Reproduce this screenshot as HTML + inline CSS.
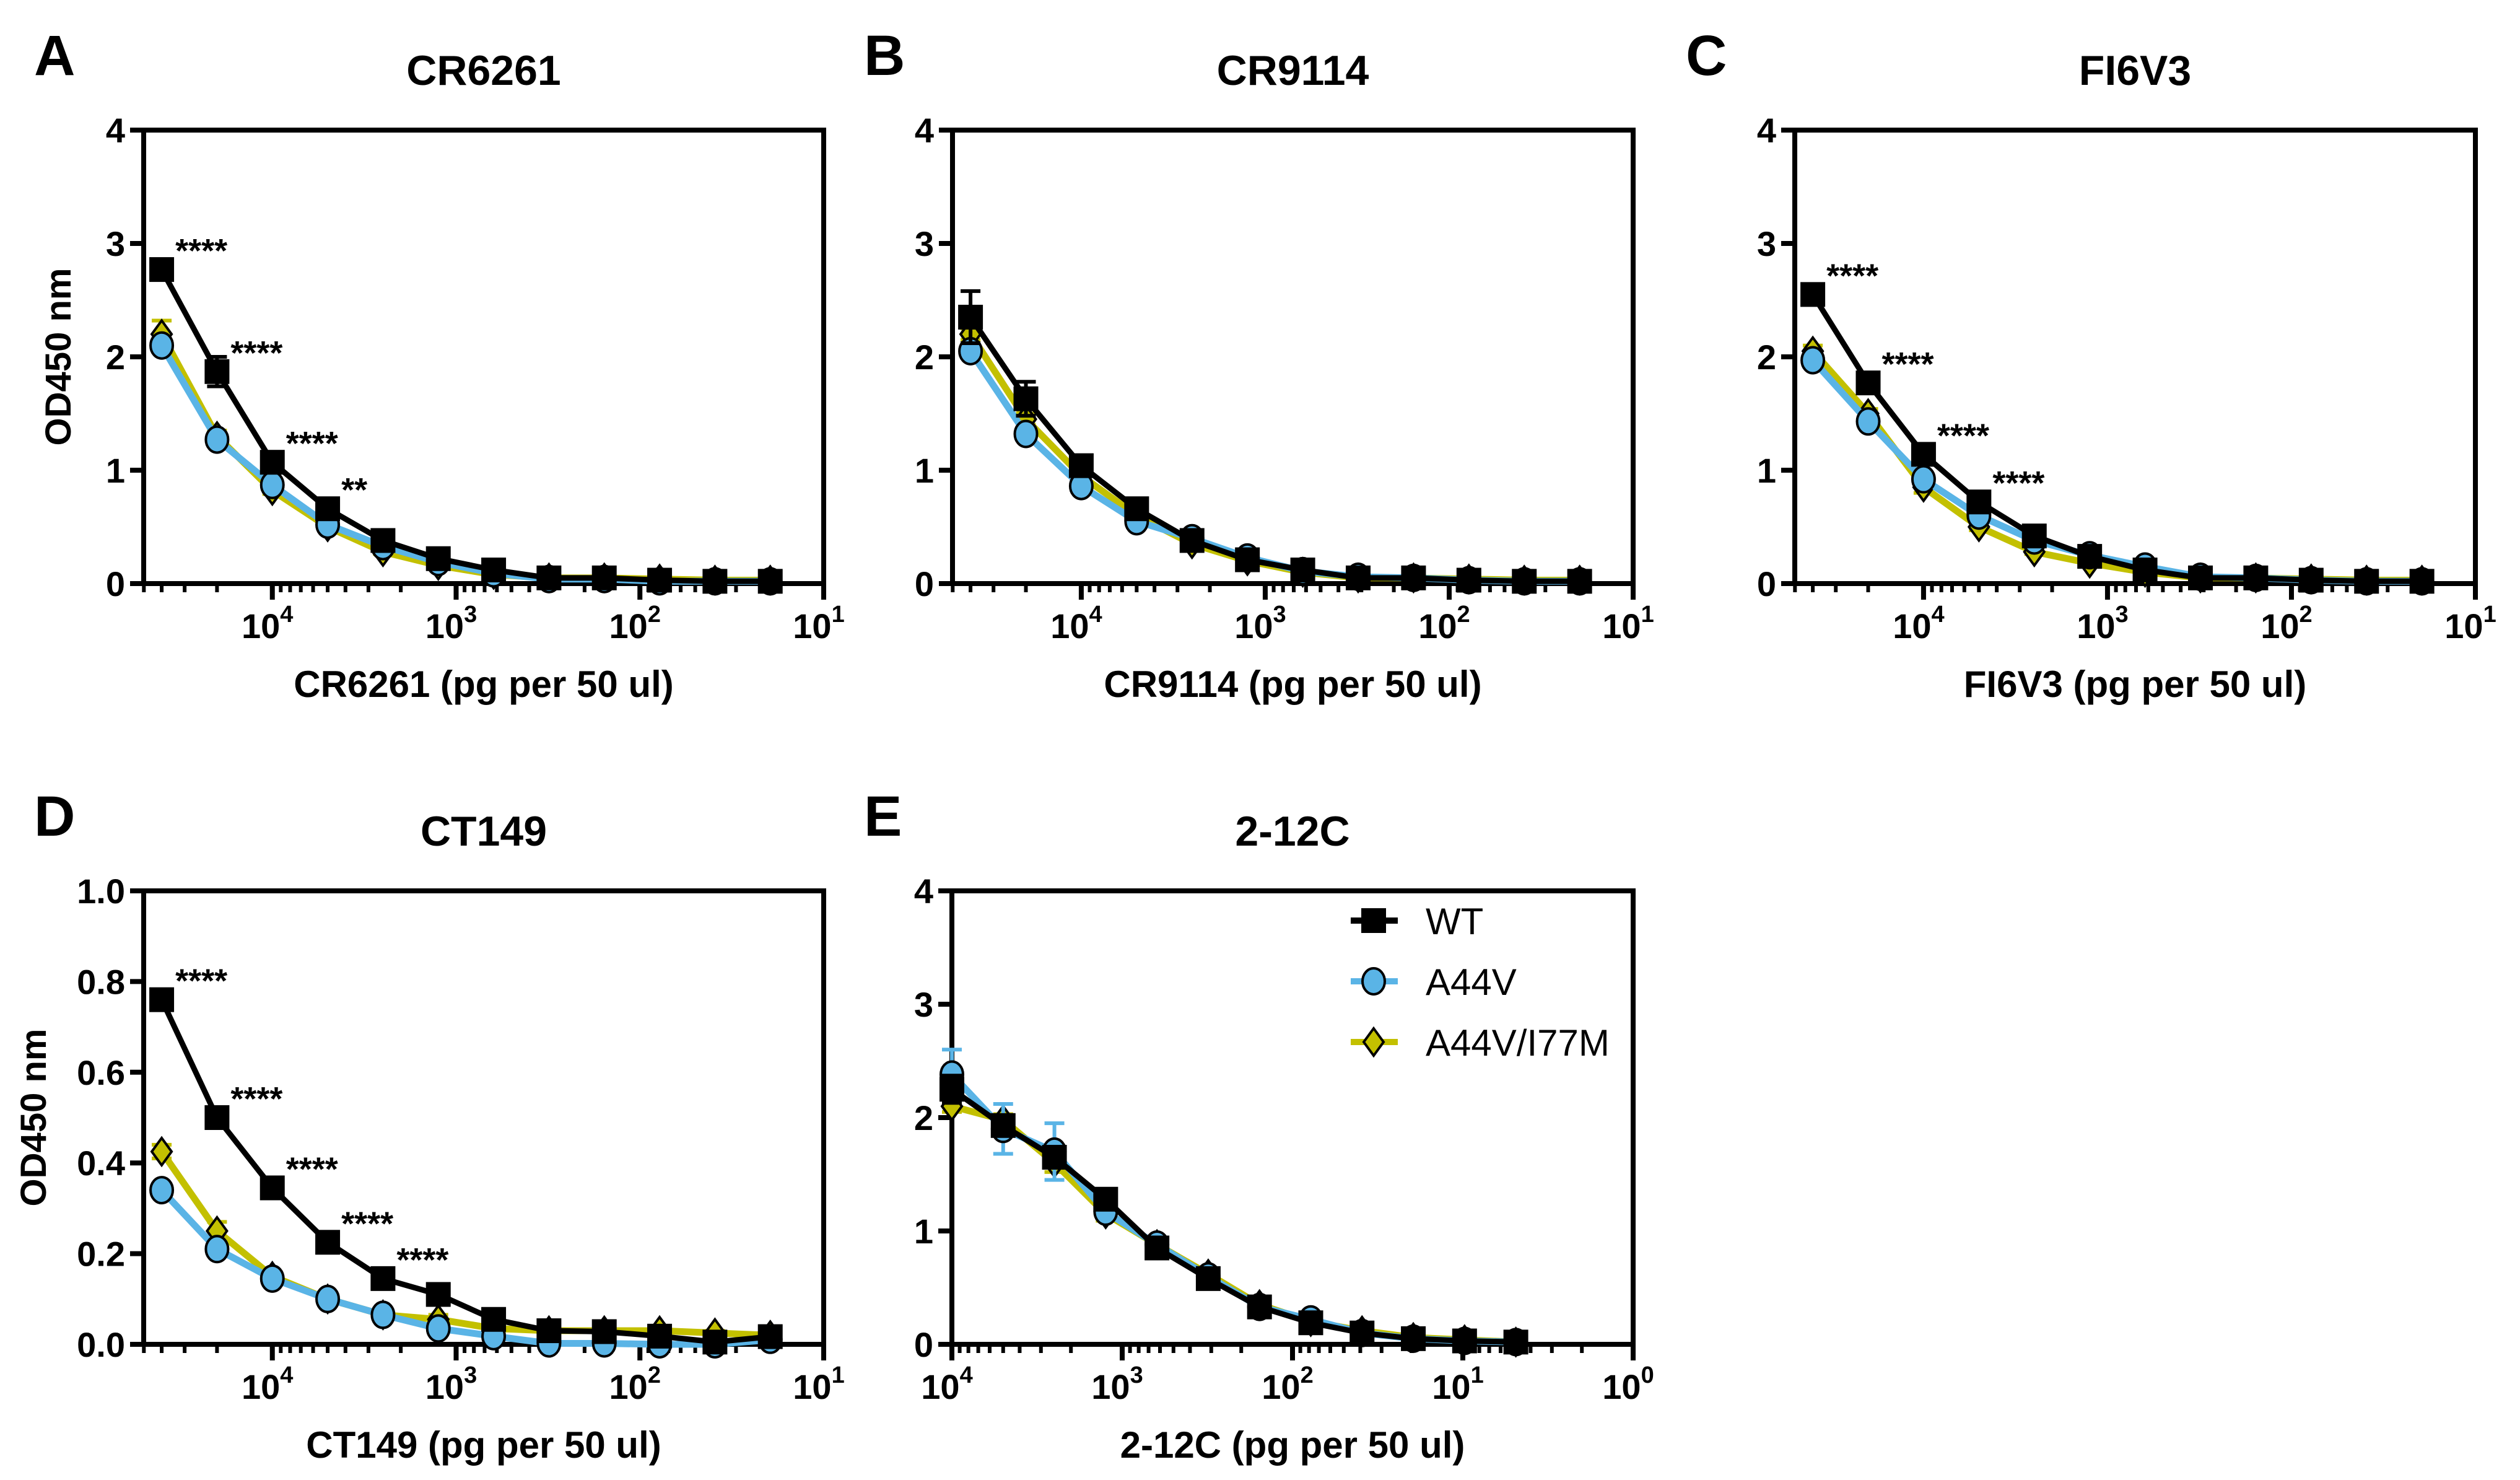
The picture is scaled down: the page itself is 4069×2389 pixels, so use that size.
<!DOCTYPE html>
<html><head><meta charset="utf-8">
<style>
html,body{margin:0;padding:0;background:#fff;}
svg{display:block;font-family:"Liberation Sans",Arial,sans-serif;}
</style></head>
<body>
<svg id="fig" width="4069" height="2389" viewBox="0 0 4069 2389" xmlns="http://www.w3.org/2000/svg"></svg>
<script>
// ---------- data ----------
const seriesNames = ["WT","A44V","A44V/I77M"];
const startConcAD = 40000;
const startConcE = 10000;
const nPoints = 12;
const A_wt   = [2.77,1.87,1.07,0.66,0.38,0.22,0.12,0.05,0.05,0.03,0.02,0.02];
const A_a44v = [2.10,1.27,0.87,0.52,0.33,0.19,0.09,0.04,0.04,0.02,0.02,0.02];
const A_i77m = [2.20,1.30,0.82,0.50,0.28,0.16,0.08,0.05,0.05,0.04,0.03,0.03];
const A_wtErr = [0.05,0.13,0.05,0.03,0.02,0.02,0.01,0.01,0.01,0.01,0.01,0.01];
const A_i77mErr = [0.12,0.05,0.03,0.02,0.02,0.01,0.01,0.01,0.01,0.01,0.01,0.01];
const A_stars = ["****","****","****","**","","","","","","","",""];
const B_wt   = [2.35,1.63,1.04,0.66,0.38,0.21,0.12,0.05,0.05,0.03,0.02,0.02];
const B_a44v = [2.05,1.32,0.86,0.55,0.40,0.23,0.11,0.06,0.05,0.03,0.02,0.02];
const B_i77m = [2.20,1.45,0.95,0.60,0.35,0.20,0.10,0.05,0.05,0.04,0.03,0.03];
const B_wtErr = [0.23,0.15,0.04,0.03,0.02,0.02,0.01,0.01,0.01,0.01,0.01,0.01];
const B_i77mErr = [0.05,0.05,0.03,0.02,0.02,0.01,0.01,0.01,0.01,0.01,0.01,0.01];
const B_stars = ["","","","","","","","","","","",""];
const C_wt   = [2.55,1.77,1.14,0.72,0.42,0.24,0.12,0.05,0.05,0.03,0.02,0.02];
const C_a44v = [1.97,1.43,0.92,0.60,0.38,0.25,0.15,0.06,0.05,0.03,0.02,0.02];
const C_i77m = [2.05,1.50,0.85,0.50,0.28,0.18,0.10,0.05,0.05,0.04,0.03,0.03];
const C_wtErr = [0.03,0.03,0.03,0.02,0.02,0.01,0.01,0.01,0.01,0.01,0.01,0.01];
const C_i77mErr = [0.05,0.04,0.05,0.03,0.02,0.01,0.01,0.01,0.01,0.01,0.01,0.01];
const C_stars = ["****","****","****","****","","","","","","","",""];
const D_wt   = [0.76,0.50,0.345,0.225,0.145,0.11,0.055,0.03,0.028,0.018,0.005,0.017];
const D_a44v = [0.34,0.21,0.145,0.10,0.065,0.035,0.018,0.002,0.002,0.0,0.0,0.01];
const D_i77m = [0.425,0.25,0.15,0.10,0.065,0.055,0.035,0.03,0.03,0.03,0.025,0.02];
const D_wtErr = [0.01,0.01,0.01,0.01,0.01,0.01,0.01,0.005,0.005,0.005,0.005,0.005];
const D_i77mErr = [0.015,0.02,0.01,0.01,0.01,0.01,0.005,0.005,0.005,0.005,0.005,0.005];
const D_stars = ["****","****","****","****","****","","","","","","",""];
const E_wt   = [2.25,1.93,1.65,1.28,0.85,0.58,0.33,0.19,0.10,0.05,0.03,0.02];
const E_a44v = [2.38,1.90,1.70,1.17,0.88,0.60,0.33,0.22,0.10,0.05,0.03,0.02];
const E_i77m = [2.10,1.98,1.60,1.15,0.88,0.62,0.35,0.20,0.12,0.06,0.04,0.02];
const E_wtErr = [0.12,0.05,0.05,0.04,0.03,0.02,0.02,0.01,0.01,0.01,0.01,0.01];
const E_a44vErr = [0.22,0.22,0.25,0.05,0.03,0.02,0.02,0.01,0.01,0.01,0.01,0.01];
const E_i77mErr = [0.05,0.05,0.08,0.06,0.03,0.02,0.02,0.01,0.01,0.01,0.01,0.01];
const E_stars = ["","","","","","","","","","","",""];
const ytick4 = [0,1,2,3,4];
const ytickLabels4 = ["0","1","2","3","4"];
const ytick1 = [0,0.2,0.4,0.6,0.8,1.0];
const ytickLabels1 = ["0.0","0.2","0.4","0.6","0.8","1.0"];

// ---------- drawing ----------
const NS="http://www.w3.org/2000/svg";
const svg=document.getElementById('fig');
const BLUE="#5ab4e6", YEL="#c3c000", BLK="#000";
function mk(tag,attrs,parent){const e=document.createElementNS(NS,tag);for(const k in attrs)e.setAttribute(k,attrs[k]);(parent||svg).appendChild(e);return e;}

function panel(o){
  const g=mk('g',{});
  
  
  const L=o.left,R=o.right,T=o.top,B=o.bottom;
  const lx0=Math.log10(o.xmax), lx1=Math.log10(o.xmin);
  const X=v=>L+(lx0-Math.log10(v))/(lx0-lx1)*(R-L);
  const Y=v=>B-(v/o.ymax)*(B-T);
  const lt=mk('text',{x:o.letterX,y:T-89,'font-size':92,'font-weight':'bold'},g);lt.textContent=o.letter;
  
  
  const tt=mk('text',{x:(L+R)/2,y:T-73,'font-size':68,'font-weight':'bold','text-anchor':'middle'},g);tt.textContent=o.title;
  
  
  const fr=mk('rect',{x:L,y:T,width:R-L,height:B-T,fill:'none',stroke:BLK,'stroke-width':8},g);
  
  
  o.yticks.forEach((v,i)=>{
    mk('line',{x1:L-22,x2:L,y1:Y(v),y2:Y(v),stroke:BLK,'stroke-width':8},g);
    const t=mk('text',{x:L-30,y:Y(v)+20,'font-size':56,'font-weight':'bold','text-anchor':'end'},g);
    t.textContent=o.ylabels[i];
    
    
  });
  for(let d=Math.floor(lx1);d<=Math.ceil(lx0);d++){
    for(let m=1;m<10;m++){
      const v=m*Math.pow(10,d);
      if(v>o.xmax*1.0001||v<o.xmin*0.9999)continue;
      const x=X(v);
      mk('line',{x1:x,x2:x,y1:B,y2:B+(m===1?26:14),stroke:BLK,'stroke-width':m===1?8:6},g);
      if(m===1){
        const t=mk('text',{x:x-8,y:B+88,'font-size':56,'font-weight':'bold','text-anchor':'middle'},g);
        
        
        t.textContent='10';
        const s=mk('tspan',{dy:-26,'font-size':38},t);s.textContent=String(d);
      }
    }
  }
  const xl=mk('text',{x:(L+R)/2,y:B+183,'font-size':60,'font-weight':'bold','text-anchor':'middle'},g);
  xl.textContent=o.xlabel;
  
  
  if(o.ytitle){
    const yt=mk('text',{x:0,y:0,'font-size':58,'font-weight':'bold','text-anchor':'middle',transform:`translate(${L-o.ytitleOff},${(T+B)/2}) rotate(-90)`},g);
    yt.textContent=o.ytitle;
    
    
  }
  const xs=[];for(let k=0;k<nPoints;k++)xs.push(o.start/Math.pow(2,k));
  const series=[
    {vals:o.i77m,err:o.i77mErr,col:YEL,shape:'diamond',name:'a44v-i77m'},
    {vals:o.a44v,err:o.a44vErr,col:BLUE,shape:'circle',name:'a44v'},
    {vals:o.wt,err:o.wtErr,col:BLK,shape:'square',name:'wt'}];
  series.forEach(s=>{
    const sg=mk('g',{},g);
    
    
    const pts=s.vals.map((v,i)=>X(xs[i]).toFixed(1)+','+Y(v).toFixed(1)).join(' ');
    const pl=mk('polyline',{points:pts,fill:'none',stroke:s.col,'stroke-width':s.col===BLK?9:11,'stroke-linejoin':'round'},sg);
    
    
    if(s.err)s.vals.forEach((v,i)=>{
      const x=X(xs[i]),y1=Y(v+s.err[i]),y2=Y(Math.max(0,v-s.err[i]));
      mk('line',{x1:x,x2:x,y1:y1,y2:y2,stroke:s.col,'stroke-width':6},sg);
      mk('line',{x1:x-16,x2:x+16,y1:y1,y2:y1,stroke:s.col,'stroke-width':6},sg);
      mk('line',{x1:x-16,x2:x+16,y1:y2,y2:y2,stroke:s.col,'stroke-width':6},sg);
    });
    s.vals.forEach((v,i)=>{
      const x=X(xs[i]),y=Y(v);let m;
      if(s.shape==='square')m=mk('rect',{x:x-20,y:y-20,width:40,height:40,fill:BLK},sg);
      else if(s.shape==='circle')m=mk('ellipse',{cx:x,cy:y,rx:18,ry:21,fill:BLUE,stroke:BLK,'stroke-width':4},sg);
      else m=mk('polygon',{points:`${x},${y-22} ${x+16},${y} ${x},${y+22} ${x-16},${y}`,fill:YEL,stroke:BLK,'stroke-width':4},sg);
      
      
    });
  });
  o.stars.forEach((st,i)=>{
    if(!st)return;
    const t=mk('text',{x:X(xs[i])+22,y:Y(o.wt[i])-12,'font-size':54,'font-weight':'bold'},g);
    t.textContent=st;
    
    
  });
  return {g,X,Y};
}
const row1={top:210,bottom:942}, row2={top:1438,bottom:2170};
panel({letter:'A',letterX:55,title:'CR6261',left:232,right:1330,...row1,xmax:50119,xmin:10,start:startConcAD,ymax:4,yticks:ytick4,ylabels:ytickLabels4,xlabel:'CR6261 (pg per 50 ul)',ytitle:'OD450 nm',ytitleOff:118,wt:A_wt,a44v:A_a44v,i77m:A_i77m,wtErr:A_wtErr,i77mErr:A_i77mErr,stars:A_stars});
panel({letter:'B',letterX:1395,title:'CR9114',left:1538,right:2637,...row1,xmax:50119,xmin:10,start:startConcAD,ymax:4,yticks:ytick4,ylabels:ytickLabels4,xlabel:'CR9114 (pg per 50 ul)',wt:B_wt,a44v:B_a44v,i77m:B_i77m,wtErr:B_wtErr,i77mErr:B_i77mErr,stars:B_stars});
panel({letter:'C',letterX:2722,title:'FI6V3',left:2898,right:3997,...row1,xmax:50119,xmin:10,start:startConcAD,ymax:4,yticks:ytick4,ylabels:ytickLabels4,xlabel:'FI6V3 (pg per 50 ul)',wt:C_wt,a44v:C_a44v,i77m:C_i77m,wtErr:C_wtErr,i77mErr:C_i77mErr,stars:C_stars});
panel({letter:'D',letterX:55,title:'CT149',left:232,right:1330,...row2,xmax:50119,xmin:10,start:startConcAD,ymax:1,yticks:ytick1,ylabels:ytickLabels1,xlabel:'CT149  (pg per 50 ul)',ytitle:'OD450 nm',ytitleOff:158,wt:D_wt,a44v:D_a44v,i77m:D_i77m,wtErr:D_wtErr,i77mErr:D_i77mErr,stars:D_stars});
panel({letter:'E',letterX:1395,title:'2-12C',left:1537,right:2637,...row2,xmax:10000,xmin:1,start:startConcE,ymax:4,yticks:ytick4,ylabels:ytickLabels4,xlabel:'2-12C (pg per 50 ul)',wt:E_wt,a44v:E_a44v,i77m:E_i77m,wtErr:E_wtErr,a44vErr:E_a44vErr,i77mErr:E_i77mErr,stars:E_stars});

const lg=mk('g',{});


const legCols=[BLK,BLUE,YEL], legY=[1486,1584,1682];
seriesNames.forEach((n,i)=>{
  const eg=mk('g',{},lg);
  
  
  const y=legY[i],cx=2218;
  mk('line',{x1:2181,x2:2257,y1:y,y2:y,stroke:legCols[i],'stroke-width':10},eg);
  if(i===0)mk('rect',{x:cx-20,y:y-20,width:40,height:40,fill:BLK},eg);
  else if(i===1)mk('ellipse',{cx:cx,cy:y,rx:18,ry:21,fill:BLUE,stroke:BLK,'stroke-width':4},eg);
  else mk('polygon',{points:`${cx},${y-22} ${cx+16},${y} ${cx},${y+22} ${cx-16},${y}`,fill:YEL,stroke:BLK,'stroke-width':4},eg);
  const t=mk('text',{x:2302,y:y+22,'font-size':60},eg);t.textContent=n;
});
</script>
</body></html>
